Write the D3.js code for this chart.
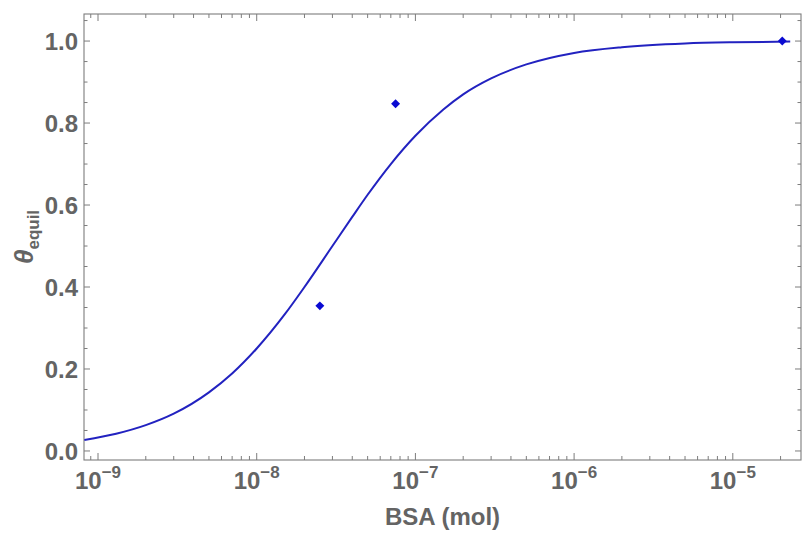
<!DOCTYPE html>
<html>
<head>
<meta charset="utf-8">
<script src="https://cdn.jsdelivr.net/npm/d3@7"></script>
<style>
  html, body { margin: 0; padding: 0; background: #fff; }
  svg { display: block; }
  text { font-family: "Liberation Sans", Arial, Helvetica, sans-serif; font-weight: bold; }
</style>
</head>
<body>
<svg id="chart" width="802" height="535"></svg>
<script>
// Measured binding fraction vs. BSA amount
const bsaMeasured = [2.5e-8, 7.5e-8, 2.05e-5];
const thetaMeasured = [0.354, 0.847, 1.0];

// Fitted binding isotherm, sampled along the BSA axis
const bsaFit = [8.2e-10, 1.3e-9, 2e-9, 3e-9, 5e-9, 7e-9, 1e-8, 1.5e-8, 2e-8, 3e-8, 4e-8, 5e-8,
                7e-8, 1e-7, 1.5e-7, 2e-7, 3e-7, 5e-7, 1e-6, 2e-6, 5e-6, 1e-5, 2.3e-5];
const thetaFit = [0.027, 0.042, 0.063, 0.091, 0.143, 0.189, 0.25, 0.333, 0.40, 0.50, 0.571, 0.625,
                  0.70, 0.769, 0.833, 0.870, 0.909, 0.943, 0.971, 0.985, 0.994, 0.997, 0.9987];

// Axis ticks
const xMajorExp = [-9, -8, -7, -6, -5];
const yMajor = [0.0, 0.2, 0.4, 0.6, 0.8, 1.0];

const svg = d3.select("#chart");
const plotL = 84, plotR = 801, plotT = 14, plotB = 460;

const x = d3.scaleLog().domain([8.16e-10, 2.69e-5]).range([plotL, plotR]);
const y = d3.scaleLinear().domain([-0.022, 1.066]).range([plotB, plotT]);

const frameColor = "#7d7d7d";
const labelColor = "#646464";

// Frame
svg.append("rect")
  .attr("x", plotL).attr("y", plotT)
  .attr("width", plotR - plotL).attr("height", plotB - plotT)
  .attr("fill", "none").attr("stroke", frameColor).attr("stroke-width", 1.1);

// X ticks (log: majors at decades, minors at 2..9)
const xTicks = [];
for (let e = -10; e <= -4; e++) {
  for (let m = 1; m <= 9; m++) {
    const v = m * Math.pow(10, e);
    if (v >= x.domain()[0] && v <= x.domain()[1]) xTicks.push({ v, major: m === 1 });
  }
}
const gx = svg.append("g");
xTicks.forEach(t => {
  const px = x(t.v), len = t.major ? 7 : 4;
  gx.append("line").attr("x1", px).attr("x2", px).attr("y1", plotB).attr("y2", plotB - len)
    .attr("stroke", frameColor).attr("stroke-width", 1);
  gx.append("line").attr("x1", px).attr("x2", px).attr("y1", plotT).attr("y2", plotT + len)
    .attr("stroke", frameColor).attr("stroke-width", 1);
});
xMajorExp.forEach(e => {
  const px = x(Math.pow(10, e));
  const t = svg.append("text")
    .attr("x", px).attr("y", 489)
    .attr("text-anchor", "middle")
    .attr("fill", labelColor)
    .attr("font-size", 24);
  t.append("tspan").text("10");
  t.append("tspan").attr("dy", -11).attr("font-size", 17).text("\u2212" + Math.abs(e));
});

// Y ticks (majors every 0.2, minors every 0.05)
const gy = svg.append("g");
for (let i = 0; i <= 21; i++) {
  const v = i * 0.05;
  const major = i % 4 === 0;
  const py = y(v), len = major ? 6 : 3.5;
  gy.append("line").attr("x1", plotL).attr("x2", plotL + len).attr("y1", py).attr("y2", py)
    .attr("stroke", frameColor).attr("stroke-width", 1);
  gy.append("line").attr("x1", plotR).attr("x2", plotR - len).attr("y1", py).attr("y2", py)
    .attr("stroke", frameColor).attr("stroke-width", 1);
}
yMajor.forEach(v => {
  svg.append("text")
    .attr("x", 78).attr("y", y(v))
    .attr("dy", "0.36em")
    .attr("text-anchor", "end")
    .attr("fill", labelColor)
    .attr("font-size", 24)
    .text(v.toFixed(1));
});

// Axis titles
svg.append("text")
  .attr("x", (plotL + plotR) / 2).attr("y", 525)
  .attr("text-anchor", "middle")
  .attr("fill", labelColor)
  .attr("font-size", 24)
  .text("BSA (mol)");

const yt = svg.append("text")
  .attr("transform", `translate(33, ${(plotT + plotB) / 2}) rotate(-90)`)
  .attr("text-anchor", "middle")
  .attr("fill", labelColor)
  .attr("font-size", 26);
yt.append("tspan").attr("font-style", "italic").text("\u03B8");
yt.append("tspan").attr("dy", 6).attr("font-size", 17).text("equil");

// Fitted curve
const fit = bsaFit.map((b, i) => [b, thetaFit[i]]);
svg.append("path")
  .datum(fit)
  .attr("fill", "none")
  .attr("stroke", "#2222c0")
  .attr("stroke-width", 2)
  .attr("d", d3.line().x(d => x(d[0])).y(d => y(d[1])).curve(d3.curveMonotoneX));

// Measured points (diamonds)
const diamond = d3.symbol().type(d3.symbolSquare).size(40);
bsaMeasured.forEach((b, i) => {
  svg.append("path")
    .attr("d", diamond())
    .attr("transform", `translate(${x(b)},${y(thetaMeasured[i])}) rotate(45)`)
    .attr("fill", "#0a0ad2");
});
</script>
</body>
</html>
